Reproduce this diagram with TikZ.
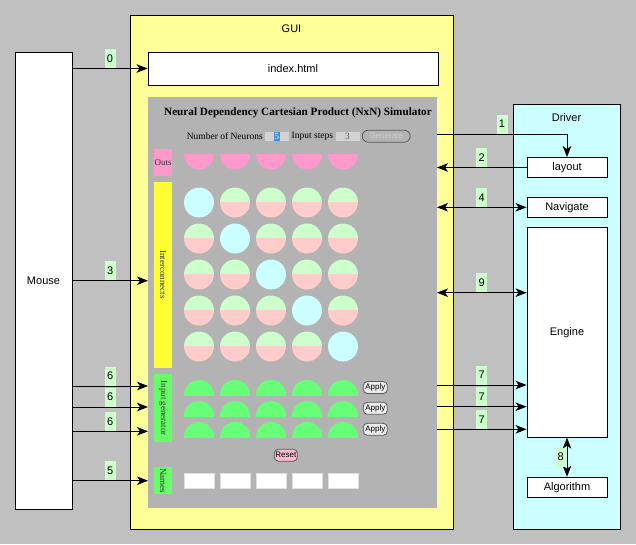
\documentclass[tikz,border=0pt]{standalone}
\usepackage{fontspec}
\setmainfont{Liberation Sans}
\newfontfamily\seriffont{Liberation Serif}
\usetikzlibrary{arrows.meta}
\definecolor{bgc}{HTML}{C0C0C0}
\definecolor{guic}{HTML}{FFFF99}
\definecolor{panelc}{HTML}{B3B3B3}
\definecolor{drvc}{HTML}{CCFFFF}
\definecolor{lblg}{HTML}{CCFFCC}
\definecolor{outpink}{HTML}{FF99CC}
\definecolor{icyel}{HTML}{FFFF33}
\definecolor{cyanc}{HTML}{CCFFFF}
\definecolor{greenc}{HTML}{CCFFCC}
\definecolor{pinkc}{HTML}{FFCCCC}
\definecolor{ingreen}{HTML}{66FF77}
\definecolor{sidegreen}{HTML}{66FF66}
\definecolor{tboxc}{HTML}{D3D3D3}
\definecolor{resetc}{HTML}{FFBBCC}
\definecolor{selblue}{HTML}{3B8EEA}
\definecolor{gentext}{HTML}{CFCFCF}
\begin{document}
\begin{tikzpicture}[x=1pt,y=-1pt,
  box/.style={draw, line width=0.9pt, fill=white, inner sep=0pt, font=\fontsize{11}{13}\selectfont},
  arr/.style={line width=0.9pt, -{Stealth[length=11pt,width=8.5pt,inset=3pt]}},
  darr/.style={line width=0.9pt, {Stealth[length=11pt,width=8.5pt,inset=3pt]}-{Stealth[length=11pt,width=8.5pt,inset=3pt]}},
  lbl/.style={fill=lblg, inner sep=0pt, minimum width=11pt, minimum height=19pt, anchor=south, font=\fontsize{11}{13}\selectfont},
  sidebox/.style={inner sep=0pt, minimum width=18pt, font=\seriffont\fontsize{9}{10}\selectfont, text=black!80},
  serif/.style={inner sep=0pt, font=\seriffont\fontsize{9.5}{11}\selectfont},
  btn/.style={draw=black!65, line width=0.8pt, rounded corners=4pt, inner sep=0pt, minimum height=12pt, font=\fontsize{8}{9}\selectfont},
  tbox/.style={fill=tboxc, inner sep=0pt, minimum width=24pt, minimum height=9pt},
  namebox/.style={draw=black!12, fill=white, inner sep=0pt, minimum width=30pt, minimum height=15pt}
]
\useasboundingbox (0,0) rectangle (636,544);
\fill[bgc] (0,0) rectangle (636,544);

% containers
\node[box, minimum width=57pt, minimum height=457pt] (mouse) at (43.5,280.5) {Mouse};
\node[box, fill=guic, minimum width=323pt, minimum height=514pt] (gui) at (291.5,272) {};
\node[inner sep=0pt, font=\fontsize{11}{13}\selectfont] (guilbl) at (291.5,29) {GUI};
\node[box, minimum width=290pt, minimum height=33pt] (idx) at (293,68.5) {index.html};
\node[fill=panelc, inner sep=0pt, minimum width=289pt, minimum height=411pt] (panel) at (292.5,302.5) {};

\node[box, fill=drvc, minimum width=107pt, minimum height=425pt] (drv) at (566.5,316.5) {};
\node[inner sep=0pt, font=\fontsize{11}{13}\selectfont] (drvlbl) at (566.5,117.3) {Driver};
\node[box, minimum width=80pt, minimum height=20pt] (layout) at (567,167.5) {layout};
\node[box, minimum width=80pt, minimum height=20pt] (nav) at (567,207.3) {Navigate};
\node[box, minimum width=80pt, minimum height=210pt] (engine) at (567,332.2) {Engine};
\node[box, minimum width=80pt, minimum height=20pt] (algo) at (567,487.2) {Algorithm};

% simulator contents
\node[inner sep=0pt, font=\seriffont\bfseries\fontsize{11.2}{13}\selectfont] (title) at (298,112.7) {Neural Dependency Cartesian Product (NxN) Simulator};
\node[serif, anchor=east] (nneur) at (263,136.2) {Number of Neurons};
\node[tbox] (tb1) at (277,136.2) {};
\fill[selblue] (274,132) rectangle (279.5,140.5);
\node[serif, text=white] (five) at (276.8,136.4) {5};
\node[serif, anchor=west] (isteps) at (291.5,136.2) {Input steps};
\node[tbox] (tb2) at (347.8,136.2) {};
\node[serif, text=black!65] (three) at (347.5,136.4) {3};
\node[btn, fill=panelc, minimum width=48pt, rounded corners=6pt, text=gentext] (gen) at (386.2,136.2) {Generate};

\node[sidebox, fill=outpink, minimum height=27pt] (outs) at (163,162.5) {Outs};
\node[sidebox, fill=icyel, minimum height=186pt] (icbar) at (163,274.7) {};
\node[sidebox, rotate=-90] (ictxt) at (163,274.7) {Interconnects};
\node[sidebox, fill=sidegreen, minimum height=68pt] (igbar) at (163,408.3) {};
\node[sidebox, rotate=-90] (igtxt) at (163,408.3) {Input generator};
\node[sidebox, fill=sidegreen, minimum height=27pt] (nmbar) at (163,480.8) {};
\node[sidebox, rotate=-90] (nmtxt) at (163,480.8) {Names};

% outs semicircles
\foreach \c in {0,...,4}{
  \pgfmathsetmacro\cx{199+36*\c}
  \begin{scope}
    \clip (\cx-16,154.3) rectangle (\cx+16,172);
    \fill[outpink] (\cx,154.3) circle[radius=15pt];
  \end{scope}
}
% interconnect grid
\foreach \r in {0,...,4}{
  \foreach \c in {0,...,4}{
    \pgfmathsetmacro\cx{199+36*\c}
    \pgfmathsetmacro\cy{202.5+36*\r}
    \ifnum\r=\c
      \fill[cyanc] (\cx,\cy) circle[radius=15pt];
    \else
      \begin{scope}
        \clip (\cx-16,\cy-16) rectangle (\cx+16,\cy);
        \fill[greenc] (\cx,\cy) circle[radius=15pt];
      \end{scope}
      \begin{scope}
        \clip (\cx-16,\cy) rectangle (\cx+16,\cy+16);
        \fill[pinkc] (\cx,\cy) circle[radius=15pt];
      \end{scope}
    \fi
  }
}
% input generator semicircles
\foreach \r in {0,1,2}{
  \foreach \c in {0,...,4}{
    \pgfmathsetmacro\cx{199+36*\c}
    \pgfmathsetmacro\cy{395+21*\r}
    \begin{scope}
      \clip (\cx-16,\cy-16) rectangle (\cx+16,\cy);
      \fill[ingreen] (\cx,\cy) circle[radius=15pt];
    \end{scope}
  }
}
\node[btn, fill=white!93!black, minimum width=24pt] (ap1) at (375.3,387.5) {Apply};
\node[btn, fill=white!93!black, minimum width=24pt] (ap2) at (375.3,408.3) {Apply};
\node[btn, fill=white!93!black, minimum width=24pt] (ap3) at (375.3,429.3) {Apply};
\node[btn, fill=resetc, minimum width=23pt] (reset) at (285.8,455.2) {Reset};
\foreach \c in {0,...,4}{
  \node[namebox] (nb\c) at (199+36*\c,480.8) {};
}

% connection points on the simulator panel
\coordinate (p1) at (437,134);
\coordinate (p2) at (437,167.5);
\coordinate (p4) at (437,207.3);
\coordinate (p9) at (437,292.7);
\coordinate (p7a) at (437,385);
\coordinate (p7b) at (437,406.7);
\coordinate (p7c) at (437,429.3);
\coordinate (q3) at (148,280.7);
\coordinate (q6a) at (148,386);
\coordinate (q6b) at (148,407);
\coordinate (q6c) at (148,431.3);
\coordinate (q5) at (148,480.7);

% left connectors
\draw[arr] (mouse.east |- idx.west) -- node[lbl]{0} (idx.west);
\draw[arr] (mouse.east |- q3) -- node[lbl]{3} (q3);
\draw[arr] (mouse.east |- q6a) -- node[lbl]{6} (q6a);
\draw[arr] (mouse.east |- q6b) -- node[lbl]{6} (q6b);
\draw[arr] (mouse.east |- q6c) -- node[lbl]{6} (q6c);
\draw[arr] (mouse.east |- q5) -- node[lbl]{5} (q5);

% right connectors
\draw[arr] (p1) -| node[lbl,pos=0.25]{1} (layout.north);
\draw[arr] (layout.west) -- node[lbl]{2} (p2);
\draw[darr] (p4) -- node[lbl]{4} (nav.west);
\draw[darr] (p9) -- node[lbl]{9} (engine.west |- p9);
\draw[arr] (p7a) -- node[lbl]{7} (engine.west |- p7a);
\draw[arr] (p7b) -- node[lbl]{7} (engine.west |- p7b);
\draw[arr] (p7c) -- node[lbl]{7} (engine.west |- p7c);
\draw[darr] (engine.south) -- node[lbl, anchor=east, xshift=-0.5pt]{8} (algo.north);
\end{tikzpicture}
\end{document}
